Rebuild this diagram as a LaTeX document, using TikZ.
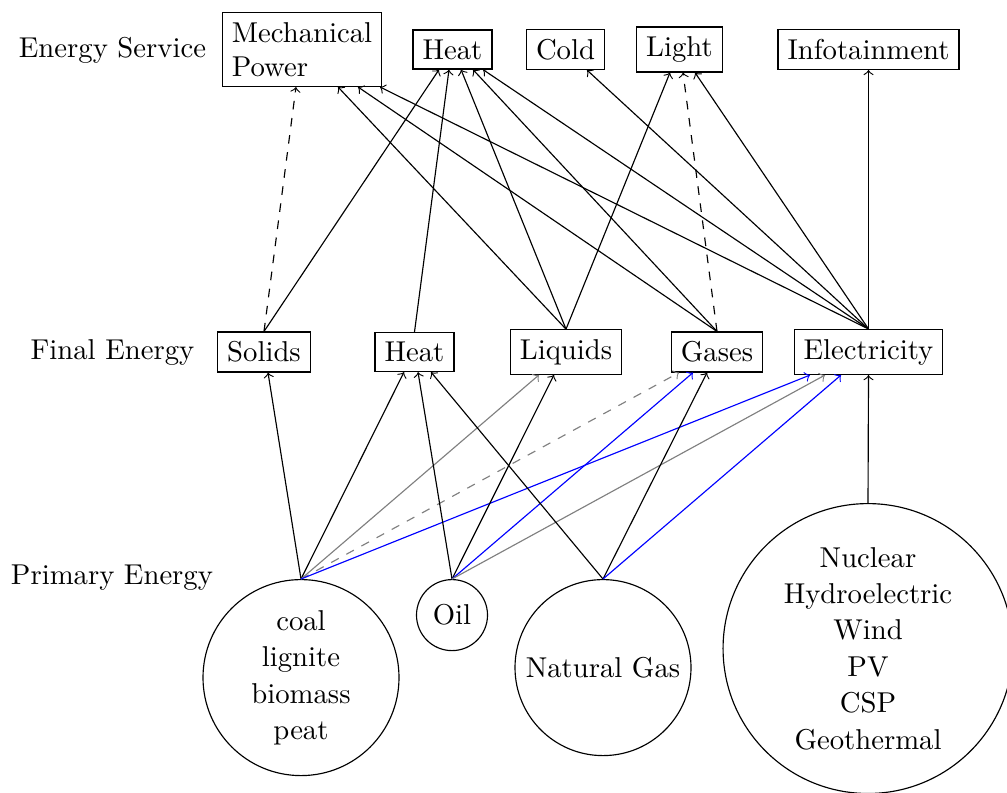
\documentclass[tikz,border=0pt]{standalone}
\usetikzlibrary{calc}
\begin{document}
\begin{tikzpicture}[x=0.3484pt,y=-0.3484pt,
  box/.style={draw, rectangle},
  src/.style={draw, circle, inner sep=1pt, align=center, font=\fontsize{10}{12.7}\selectfont},
  lbl/.style={},
  arr/.style={->},
  arrd/.style={->, dashed},
  gry/.style={->, gray},
  gryd/.style={->, gray, dashed},
  blu/.style={->, blue}]
\useasboundingbox (0,0) rectangle (1007,792);

% level labels
\node[lbl] (ls) at (112.5,50) {Energy Service};
\node[lbl] (lf) at (112.5,352) {Final Energy};
\node[lbl] (lp) at (112,578) {Primary Energy};

% energy services
\node[box, align=left] (mech) at (302,49.5) {Mechanical\\Power};
\node[box] (sheat) at (452.5,49.5) {Heat};
\node[box] (cold) at (565.5,49.5) {Cold};
\node[box] (light) at (679.5,49.5) {Light};
\node[box] (info) at (868.5,49.5) {Infotainment};

% final energy
\node[box] (solids) at (264,352) {Solids};
\node[box] (fheat) at (414.5,352) {Heat};
\node[box] (liquids) at (566,352) {Liquids};
\node[box] (gases) at (717,352) {Gases};
\node[box] (elec) at (868.5,352) {Electricity};

% primary energy
\node[src, anchor=north, minimum size=68.29pt] (coal) at (301,579) {coal\\lignite\\biomass\\peat};
\node[src, anchor=north, minimum size=24.74pt] (oil) at (452,579) {Oil};
\node[src, anchor=north, minimum size=61.32pt] (gas) at (603,579) {Natural Gas};
\node[src, anchor=north, minimum size=101pt] (ren) at (868,503) {Nuclear\\Hydroelectric\\Wind\\PV\\CSP\\Geothermal};

% primary -> final
\draw[arr]  (coal.north) -- ($(solids.south)+(4,0)$);
\draw[arr]  (coal.north) -- ($(fheat.south)+(-10.5,0)$);
\draw[gry]  (coal.north) -- ($(liquids.south)+(-27,0)$);
\draw[gryd] (coal.north) -- ($(gases.south)+(-38,0)$);
\draw[blu]  (coal.north) -- ($(elec.south)+(-58.5,0)$);
\draw[arr]  (oil.north) -- ($(fheat.south)+(3.5,0)$);
\draw[arr]  (oil.north) -- ($(liquids.south)+(-12,0)$);
\draw[blu]  (oil.north) -- ($(gases.south)+(-24,0)$);
\draw[gry]  (oil.north) -- ($(elec.south)+(-43.5,0)$);
\draw[arr]  (gas.north) -- ($(fheat.south)+(16.5,0)$);
\draw[arr]  (gas.north) -- ($(gases.south)+(-10,0)$);
\draw[blu]  (gas.north) -- ($(elec.south)+(-27.5,0)$);
\draw[arr]  (ren.north) -- (elec.south);

% final -> service
\draw[arrd] (solids.north) -- ($(mech.south)+(-6,0)$);
\draw[arr]  (solids.north) -- ($(sheat.south)+(-13.5,0)$);
\draw[arr]  (fheat.north) -- ($(sheat.south)+(-3.5,0)$);
\draw[arr]  (liquids.north) -- ($(mech.south)+(36,0)$);
\draw[arr]  (liquids.north) -- ($(sheat.south)+(8.5,0)$);
\draw[arr]  (liquids.north) -- ($(light.south)+(-9.5,0)$);
\draw[arr]  (gases.north) -- ($(mech.south)+(56,0)$);
\draw[arr]  (gases.north) -- ($(sheat.south)+(20.5,0)$);
\draw[arrd] (gases.north) -- ($(light.south)+(3.5,0)$);
\draw[arr]  (elec.north) -- ($(mech.south)+(78,0)$);
\draw[arr]  (elec.north) -- ($(sheat.south)+(30.5,0)$);
\draw[arr]  (elec.north) -- ($(cold.south)+(21.5,0)$);
\draw[arr]  (elec.north) -- ($(light.south)+(15.5,0)$);
\draw[arr]  (elec.north) -- (info.south);
\end{tikzpicture}
\end{document}
